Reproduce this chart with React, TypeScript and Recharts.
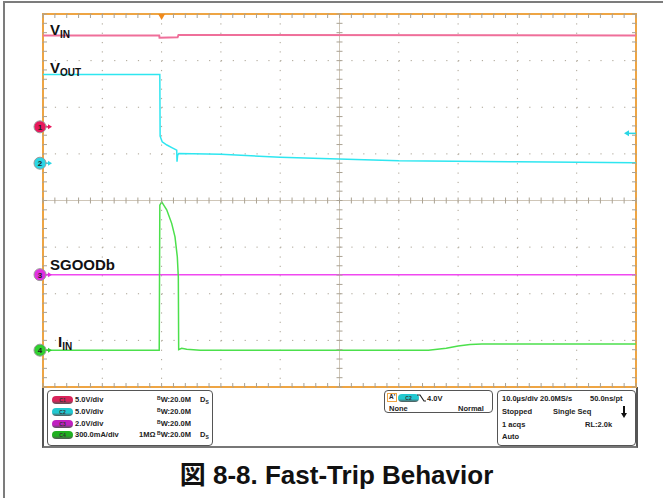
import {
  CartesianGrid,
  ComposedChart,
  Line,
  ReferenceLine,
  Scatter,
  XAxis,
  YAxis,
} from 'recharts'

// time in µs (10 µs/div, trigger at 0), vertical position in screen divisions
const T_MIN = -20
const T_MAX = 80
const DIV_MIN = -4
const DIV_MAX = 4

const vinTime = [-20, -0.4, -0.35, 2.7, 2.85, 80]
const vinDiv = [3.54, 3.54, 3.49, 3.5, 3.55, 3.54]

const voutTime = [-20, -0.3, -0.25, 0.1, 0.9, 1.8, 2.55, 2.6, 2.7, 2.9, 10, 20, 27, 40, 60, 80]
const voutDiv = [2.7, 2.7, 1.38, 1.26, 1.19, 1.13, 1.08, 0.83, 0.97, 1.01, 0.99, 0.93, 0.9, 0.85, 0.83, 0.81]

const sgoodTime = [-20, 80]
const sgoodDiv = [-1.59, -1.59]

const iinTime = [-20, -0.4, -0.3, 0.02, 0.86, 1.7, 2.26, 2.65, 2.82, 2.88, 3.39, 4.23, 6.5, 45, 48, 50, 52, 54, 80]
const iinDiv = [-3.21, -3.21, -0.1, -0.03, -0.2, -0.49, -0.78, -1.21, -1.64, -3.2, -3.17, -3.19, -3.21, -3.21, -3.17, -3.12, -3.09, -3.08, -3.08]

const channelNames = ['1', '2', '3', '4']
const channelOffsets = [1.58, 0.8, -1.59, -3.21]
const channelColors = ['#e8185c', '#2ad6e4', '#e030e0', '#30d030']
const triggerLevelDiv = 1.44

const VIN_COLOR = '#ef6f9a'
const VOUT_COLOR = '#2ee6f0'
const SGOOD_COLOR = '#f048f0'
const IIN_COLOR = '#4ce04c'
const GRID_COLOR = '#aaa293'

const zip = (ts: number[], vs: number[]) => ts.map((t, i) => ({ t, v: vs[i] }))

const minorT = Array.from({ length: 51 }, (_, i) => T_MIN + i * 2)
const minorV = Array.from({ length: 41 }, (_, i) => Math.round((DIV_MIN + i * 0.2) * 10) / 10)

const topTicks = minorT.map((t) => ({ t, v: DIV_MAX }))
const bottomTicks = minorT.map((t) => ({ t, v: DIV_MIN }))
const centerHTicks = minorT.map((t) => ({ t, v: 0 }))
const leftTicks = minorV.map((v) => ({ t: T_MIN, v }))
const rightTicks = minorV.map((v) => ({ t: T_MAX, v }))
const centerVTicks = minorV.map((v) => ({ t: 30, v }))

const markers = channelNames.map((n, i) => ({ t: T_MIN, v: channelOffsets[i], n, c: channelColors[i] }))

const vTick = (a: number, b: number) => (p: any) => (
  <line x1={p.cx} x2={p.cx} y1={p.cy + a} y2={p.cy + b} stroke={GRID_COLOR} strokeWidth={1} />
)
const hTick = (a: number, b: number) => (p: any) => (
  <line x1={p.cx + a} x2={p.cx + b} y1={p.cy} y2={p.cy} stroke={GRID_COLOR} strokeWidth={1} />
)

function ChannelMarker(p: any) {
  const { cx, cy, payload } = p
  const x = cx - 3
  return (
    <g>
      <line x1={x + 5} x2={x + 10} y1={cy} y2={cy} stroke={payload.c} strokeWidth={1.5} />
      <path d={`M${x + 12},${cy} L${x + 8},${cy - 2.5} L${x + 8},${cy + 2.5} Z`} fill={payload.c} />
      <circle cx={x} cy={cy} r={6} fill={payload.c} stroke="#9a9a9a" strokeWidth={1} />
      <text x={x} y={cy + 3} textAnchor="middle" fontSize={8} fontWeight="bold" fill="#222" fontFamily="Liberation Sans, Arial">
        {payload.n}
      </text>
    </g>
  )
}

function TriggerMark(p: any) {
  const { cx, cy } = p
  return <path d={`M${cx - 3.5},${cy} L${cx + 3.5},${cy} L${cx},${cy + 6} Z`} fill="#f08a1c" />
}

function LevelMark(p: any) {
  const { cx, cy } = p
  return (
    <g>
      <line x1={cx - 8} x2={cx} y1={cy} y2={cy} stroke="#2ad6e4" strokeWidth={1.5} />
      <path d={`M${cx - 12},${cy} L${cx - 7},${cy - 3} L${cx - 7},${cy + 3} Z`} fill="#2ad6e4" />
    </g>
  )
}

const labelStyle = {
  position: 'absolute' as const,
  fontWeight: 'bold' as const,
  fontSize: 15,
  color: '#111',
  lineHeight: 1,
}
const subStyle = { fontSize: 10, position: 'relative' as const, top: 3 }

const panelText = {
  position: 'absolute' as const,
  fontSize: 7.5,
  fontWeight: 'bold' as const,
  color: '#222',
  lineHeight: 1,
  whiteSpace: 'nowrap' as const,
}

function Pill({ x, y, color, label }: { x: number; y: number; color: string; label: string }) {
  return (
    <div
      style={{
        position: 'absolute',
        left: x,
        top: y,
        width: 21,
        height: 8,
        borderRadius: 5,
        background: `linear-gradient(${color}, ${color} 60%, #555)`,
        fontSize: 5,
        fontWeight: 'bold',
        color: '#333',
        textAlign: 'center',
        lineHeight: '8px',
      }}
    >
      {label}
    </div>
  )
}

const Bw = () => (
  <span>
    <span style={{ fontSize: 5, position: 'relative', top: -2 }}>B</span>W:20.0M
  </span>
)
const Ds = () => (
  <span>
    D<span style={{ fontSize: 5, position: 'relative', top: 2 }}>S</span>
  </span>
)

export default function App() {
  return (
    <div
      style={{
        position: 'absolute',
        left: 0,
        top: 0,
        width: 663,
        height: 498,
        background: '#fff',
        overflow: 'hidden',
        fontFamily: '"Liberation Sans", Arial, sans-serif',
      }}
    >
      <div style={{ position: 'absolute', left: 3, top: 1, width: 700, height: 600, border: '2px solid #7c7c7c' }} />
      <div
        style={{
          position: 'absolute',
          left: 42,
          top: 387,
          width: 596,
          height: 61,
          boxSizing: 'border-box',
          borderLeft: '2px solid #555',
          borderRight: '2px solid #555',
          borderBottom: '2px solid #777',
        }}
      />
      <div
        style={{
          position: 'absolute',
          left: 42,
          top: 13,
          width: 595,
          height: 375,
          boxSizing: 'border-box',
          border: '2px solid #eea544',
        }}
      />

      <div style={{ position: 'absolute', left: 0, top: 0 }}>
        <ComposedChart width={663} height={400} margin={{ top: 14, right: 27, bottom: 13, left: 43 }}>
          <XAxis
            type="number"
            dataKey="t"
            domain={[T_MIN, T_MAX]}
            ticks={[-20, -10, 0, 10, 20, 30, 40, 50, 60, 70, 80]}
            hide
          />
          <YAxis
            type="number"
            dataKey="v"
            domain={[DIV_MIN, DIV_MAX]}
            ticks={[-4, -3, -2, -1, 0, 1, 2, 3, 4]}
            hide
          />
          <CartesianGrid horizontal vertical={false} stroke={GRID_COLOR} strokeDasharray="1.2 10.66" />
          <CartesianGrid horizontal={false} vertical stroke={GRID_COLOR} strokeDasharray="1.2 8.125" />
          <ReferenceLine x={30} stroke="#cfc6b8" />
          <ReferenceLine y={0} stroke="#cfc6b8" />
          <Scatter data={topTicks} shape={vTick(0, 4)} isAnimationActive={false} />
          <Scatter data={bottomTicks} shape={vTick(-4, 0)} isAnimationActive={false} />
          <Scatter data={centerHTicks} shape={vTick(-3, 3)} isAnimationActive={false} />
          <Scatter data={leftTicks} shape={hTick(0, 4)} isAnimationActive={false} />
          <Scatter data={rightTicks} shape={hTick(-4, 0)} isAnimationActive={false} />
          <Scatter data={centerVTicks} shape={hTick(-3, 3)} isAnimationActive={false} />

          <Line data={zip(vinTime, vinDiv)} dataKey="v" type="linear" stroke={VIN_COLOR} strokeWidth={2} dot={false} isAnimationActive={false} />
          <Line data={zip(voutTime, voutDiv)} dataKey="v" type="linear" stroke={VOUT_COLOR} strokeWidth={1.5} dot={false} isAnimationActive={false} />
          <Line data={zip(sgoodTime, sgoodDiv)} dataKey="v" type="linear" stroke={SGOOD_COLOR} strokeWidth={1.5} dot={false} isAnimationActive={false} />
          <Line data={zip(iinTime, iinDiv)} dataKey="v" type="linear" stroke={IIN_COLOR} strokeWidth={1.5} dot={false} isAnimationActive={false} />

          <Scatter data={[{ t: 0, v: DIV_MAX }]} shape={TriggerMark} isAnimationActive={false} />
          <Scatter data={[{ t: T_MAX, v: triggerLevelDiv }]} shape={LevelMark} isAnimationActive={false} />
          <Scatter data={markers} shape={ChannelMarker} isAnimationActive={false} />
        </ComposedChart>
      </div>

      <div style={{ ...labelStyle, left: 50, top: 22 }}>
        V<span style={subStyle}>IN</span>
      </div>
      <div style={{ ...labelStyle, left: 50, top: 60 }}>
        V<span style={subStyle}>OUT</span>
      </div>
      <div style={{ ...labelStyle, left: 50, top: 257 }}>SGOODb</div>
      <div style={{ ...labelStyle, left: 58, top: 334 }}>
        I<span style={subStyle}>IN</span>
      </div>

      {/* channel panel */}
      <div style={{ position: 'absolute', left: 47, top: 390, width: 166, height: 56, boxSizing: 'border-box', border: '1px solid #555', borderRadius: 4 }} />
      <Pill x={52} y={396} color="#d8235a" label="C1" />
      <Pill x={52} y={408} color="#22c8d0" label="C2" />
      <Pill x={52} y={420} color="#c020c0" label="C3" />
      <Pill x={52} y={431} color="#20b020" label="C4" />
      <div style={{ ...panelText, left: 75, top: 396 }}>5.0V/div</div>
      <div style={{ ...panelText, left: 75, top: 408 }}>5.0V/div</div>
      <div style={{ ...panelText, left: 75, top: 420 }}>2.0V/div</div>
      <div style={{ ...panelText, left: 75, top: 431 }}>300.0mA/div</div>
      <div style={{ ...panelText, left: 157, top: 396 }}><Bw /></div>
      <div style={{ ...panelText, left: 157, top: 408 }}><Bw /></div>
      <div style={{ ...panelText, left: 157, top: 420 }}><Bw /></div>
      <div style={{ ...panelText, left: 157, top: 431 }}><Bw /></div>
      <div style={{ ...panelText, left: 139, top: 431 }}>1MΩ</div>
      <div style={{ ...panelText, left: 200, top: 396 }}><Ds /></div>
      <div style={{ ...panelText, left: 200, top: 431 }}><Ds /></div>

      {/* trigger panel */}
      <div style={{ position: 'absolute', left: 384, top: 390, width: 109, height: 23, boxSizing: 'border-box', border: '1px solid #555', borderRadius: 4 }} />
      <div style={{ ...panelText, left: 387, top: 393, border: '1px solid #eea544', padding: '0 1px', fontSize: 6.5 }}>A'</div>
      <Pill x={398} y={394} color="#22c8d0" label="C2" />
      <svg style={{ position: 'absolute', left: 417, top: 394 }} width={9} height={8}>
        <path d="M0,1 L3,1 L7,7 L9,7" fill="none" stroke="#222" strokeWidth={1.2} />
      </svg>
      <div style={{ ...panelText, left: 427, top: 395 }}>4.0V</div>
      <div style={{ ...panelText, left: 389, top: 405 }}>None</div>
      <div style={{ ...panelText, left: 458, top: 405 }}>Normal</div>

      {/* timebase panel */}
      <div style={{ position: 'absolute', left: 497, top: 390, width: 139, height: 56, boxSizing: 'border-box', border: '1px solid #555', borderRadius: 4 }} />
      <div style={{ ...panelText, left: 502, top: 395 }}>10.0µs/div</div>
      <div style={{ ...panelText, left: 540, top: 395 }}>20.0MS/s</div>
      <div style={{ ...panelText, left: 590, top: 395 }}>50.0ns/pt</div>
      <div style={{ ...panelText, left: 502, top: 408 }}>Stopped</div>
      <div style={{ ...panelText, left: 553, top: 408 }}>Single Seq</div>
      <svg style={{ position: 'absolute', left: 621, top: 406 }} width={6} height={12}>
        <path d="M3,0 L3,8" stroke="#111" strokeWidth={2} />
        <path d="M0,7 L6,7 L3,12 Z" fill="#111" />
      </svg>
      <div style={{ ...panelText, left: 502, top: 421 }}>1 acqs</div>
      <div style={{ ...panelText, left: 585, top: 421 }}>RL:2.0k</div>
      <div style={{ ...panelText, left: 502, top: 433 }}>Auto</div>

      <div
        style={{
          position: 'absolute',
          left: 5,
          width: 663,
          top: 454,
          textAlign: 'center',
          fontSize: 26,
          fontWeight: 'bold',
          color: '#111',
          fontFamily: '"Liberation Sans", Arial, "Noto Sans CJK JP", sans-serif',
        }}
      >
        図 8-8. Fast-Trip Behavior
      </div>
    </div>
  )
}
